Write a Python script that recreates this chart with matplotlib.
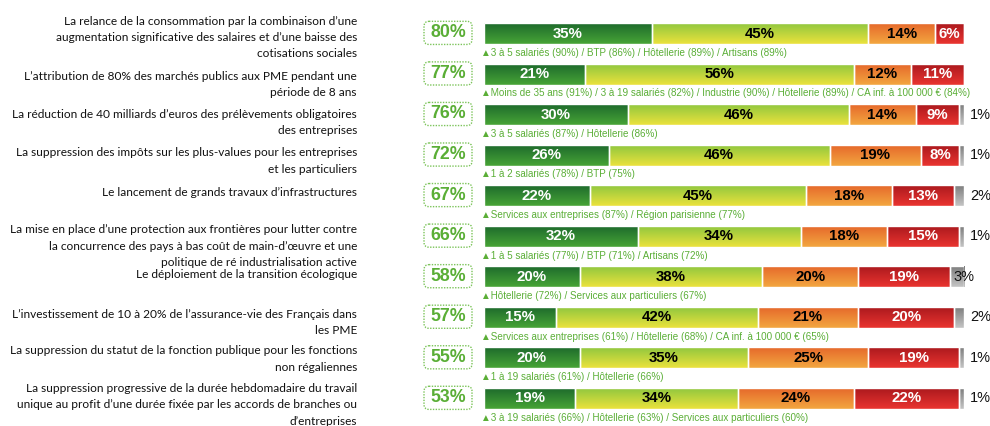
import numpy as np
import matplotlib
matplotlib.use("Agg")
import matplotlib.pyplot as plt
from matplotlib.patches import FancyBboxPatch
from matplotlib.colors import LinearSegmentedColormap
import matplotlib.transforms as mtransforms

# ---------------- data ----------------
labels = [
    "La relance de la consommation par la combinaison d’une\naugmentation significative des salaires et d’une baisse des\ncotisations sociales",
    "L’attribution de 80% des marchés publics aux PME pendant une\npériode de 8 ans",
    "La réduction de 40 milliards d’euros des prélèvements obligatoires\ndes entreprises",
    "La suppression des impôts sur les plus-values pour les entreprises\net les particuliers",
    "Le lancement de grands travaux d’infrastructures",
    "La mise en place d’une protection aux frontières pour lutter contre\nla concurrence des pays à bas coût de main-d’œuvre et une\npolitique de ré industrialisation active",
    "Le déploiement de la transition écologique",
    "L’investissement de 10 à 20% de l’assurance-vie des Français dans\nles PME",
    "La suppression du statut de la fonction publique pour les fonctions\nnon régaliennes",
    "La suppression progressive de la durée hebdomadaire du travail\nunique au profit d’une durée fixée par les accords de branches ou\nd’entreprises",
]
totals = [80, 77, 76, 72, 67, 66, 58, 57, 55, 53]
tout_a_fait = [35, 21, 30, 26, 22, 32, 20, 15, 20, 19]
plutot = [45, 56, 46, 46, 45, 34, 38, 42, 35, 34]
plutot_pas = [14, 12, 14, 19, 18, 18, 20, 21, 25, 24]
pas_du_tout = [6, 11, 9, 8, 13, 15, 19, 20, 19, 22]
nsp = [0, 0, 1, 1, 2, 1, 3, 2, 1, 1]
sublabels = [
    "3 à 5 salariés (90%) / BTP (86%) / Hôtellerie (89%) / Artisans (89%)",
    "Moins de 35 ans (91%) / 3 à 19 salariés (82%) / Industrie (90%) / Hôtellerie (89%) / CA inf. à 100 000 € (84%)",
    "3 à 5 salariés (87%) / Hôtellerie (86%)",
    "1 à 2 salariés (78%) / BTP (75%)",
    "Services aux entreprises (87%) / Région parisienne (77%)",
    "1 à 5 salariés (77%) / BTP (71%) / Artisans (72%)",
    "Hôtellerie (72%) / Services aux particuliers (67%)",
    "Services aux entreprises (61%) / Hôtellerie (68%) / CA inf. à 100 000 € (65%)",
    "1 à 19 salariés (61%) / Hôtellerie (66%)",
    "3 à 19 salariés (66%) / Hôtellerie (63%) / Services aux particuliers (60%)",
]

# ---------------- style ----------------
W, H = 990, 426
fig = plt.figure(figsize=(W / 100, H / 100), dpi=100)
fig.patch.set_facecolor("white")

n = len(labels)
pitch = 40.55
top_c = 33.5
ylim = ((H - top_c) / pitch, -top_c / pitch)

ax = fig.add_axes([484 / W, 0, 480 / W, 1])
ax.set_xlim(0, 100)
ax.axis("off")

series = [tout_a_fait, plutot, plutot_pas, pas_du_tout, nsp]
grads = [
    ("#1c682c", "#47a436"),
    ("#8cc63f", "#ebe23c"),
    ("#e5652a", "#f3a740"),
    ("#a8181d", "#ea3430"),
    ("#7a7a7a", "#c4c4c4"),
]
txtcol = ["white", "black", "black", "white", None]
bar_font = ["Liberation Sans", "DejaVu Sans"]
green_txt = "#5aae36"

y = np.arange(n)
bh = 0.52
left = np.zeros(n)
for k, vals in enumerate(series):
    vals = np.array(vals, dtype=float)
    bars = ax.barh(y, vals, left=left, height=bh, color="none",
                   edgecolor="white", linewidth=1.0, zorder=3)
    cmap = LinearSegmentedColormap.from_list(f"g{k}", list(grads[k]))
    grad = np.linspace(0, 1, 64).reshape(-1, 1)
    for i, b in enumerate(bars):
        if vals[i] <= 0:
            continue
        x0, w = b.get_x(), b.get_width()
        yc = b.get_y() + b.get_height() / 2
        im = ax.imshow(grad, cmap=cmap, aspect="auto", origin="upper",
                       extent=[x0, x0 + w, yc + bh / 2, yc - bh / 2],
                       zorder=2, interpolation="bilinear")
        im.set_clip_path(b)
        if txtcol[k] is not None:
            ax.text(x0 + w / 2, yc, f"{int(vals[i])}%", ha="center", va="center",
                    color=txtcol[k], fontsize=10.8, fontweight="bold",
                    family=bar_font, zorder=5)
        else:
            tx = x0 + w + 1.3 if w < 3 else x0 + 0.8
            ax.text(tx, yc, f"{int(vals[i])}%", ha="left", va="center",
                    color="#111111", fontsize=10.5, family=bar_font, zorder=5,
                    clip_on=False)
    left = left + vals

# sub labels
for i, s in enumerate(sublabels):
    ax.text(-0.6, i + 0.475, "▲" + s, ha="left", va="center", fontsize=7.1,
            color=green_txt, family=bar_font, clip_on=False, zorder=5)

ax.set_xlim(0, 100)
ax.set_ylim(*ylim)

# total boxes
axb = fig.add_axes([423 / W, 0, 50 / W, 1])
axb.set_xlim(0, 1)
axb.set_ylim(*ylim)
axb.axis("off")
for i, t in enumerate(totals):
    box = FancyBboxPatch((0.02, i - 0.3), 0.96, 0.57,
                         boxstyle="round,pad=0,rounding_size=0.1",
                         mutation_aspect=50 / pitch,
                         facecolor="white", edgecolor="#7cc45a",
                         linewidth=1.0, linestyle=(0, (1, 1)))
    axb.add_patch(box)
    axb.text(0.5, i - 0.015, f"{t}%", ha="center", va="center", fontsize=12.8,
             fontweight="bold", color=green_txt, family=bar_font)

# question labels: fit font size so the widest line spans ~345 px
lab_font = ["Lato", "DejaVu Sans"]
renderer = fig.canvas.get_renderer()
probe = fig.text(0, 0, "La réduction de 40 milliards d’euros des prélèvements obligatoires",
                 fontsize=10, family=lab_font)
wpx = probe.get_window_extent(renderer).width
probe.remove()
lab_fs = 10 * 345.0 / wpx

trans = mtransforms.blended_transform_factory(fig.transFigure, ax.transData)
label_off = [0.10, 0.26, 0.20, 0.14, -0.07, 0.25, -0.05, 0.12, 0.03, 0.16]
for i, lab in enumerate(labels):
    ax.text(357 / W, i + label_off[i], lab, transform=trans, ha="right",
            va="center", multialignment="right", fontsize=lab_fs,
            family=lab_font, color="#111111",
            linespacing=1.6, clip_on=False)

fig.savefig("out.png", dpi=100, facecolor="white")
